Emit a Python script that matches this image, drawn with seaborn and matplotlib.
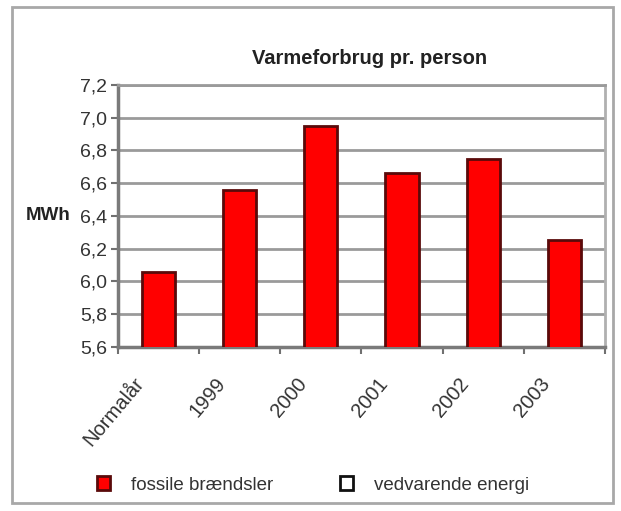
import matplotlib
matplotlib.use("Agg")
import matplotlib.pyplot as plt
import matplotlib.transforms as mtransforms
from matplotlib.patches import Patch, Rectangle
import seaborn as sns
import pandas as pd

categories = ["Normalår", "1999", "2000", "2001", "2002", "2003"]
fossil = [6.06, 6.56, 6.95, 6.66, 6.75, 6.25]
renewable = [0, 0, 0, 0, 0, 0]
series_names = ["fossile brændsler", "vedvarende energi"]
yticks = [5.6, 5.8, 6.0, 6.2, 6.4, 6.6, 6.8, 7.0, 7.2]
title = "Varmeforbrug pr. person"
ylabel = "MWh"

sns.set_style("white")
plt.rcParams["font.family"] = ["Liberation Sans", "DejaVu Sans"]

df = pd.DataFrame({"cat": categories, "val": fossil})

fig = plt.figure(figsize=(6.21, 5.11), dpi=100)
ax = fig.add_axes([0.190, 0.321, 0.784, 0.513])

sns.barplot(data=df, x="cat", y="val", color="#ff0000", saturation=1,
            width=0.41, edgecolor="#5a0a0a", linewidth=2, ax=ax, zorder=3)

ax.set_ylim(5.6, 7.2)
ax.set_xlim(-0.5, 5.5)
ax.set_yticks(yticks)
ax.set_yticklabels([f"{v:.1f}".replace(".", ",") for v in yticks],
                   fontsize=14, color="#333333")
ax.yaxis.grid(True, color="#9a9a9a", linewidth=2, zorder=0)
ax.set_axisbelow(True)
ax.tick_params(axis="y", length=5, width=1.5, color="#707070", pad=3, left=True)

ax.set_xticks(range(len(categories)))
ax.set_xticklabels(categories, rotation=50, ha="right", rotation_mode="anchor",
                   fontsize=14.5, color="#333333")
ax.tick_params(axis="x", length=0, pad=8)
offset = mtransforms.ScaledTranslation(-25 / 100, -16 / 100, fig.dpi_scale_trans)
for lab in ax.get_xticklabels():
    lab.set_transform(lab.get_transform() + offset)
ax.set_xticks([i - 0.5 for i in range(len(categories) + 1)], minor=True)
ax.tick_params(axis="x", which="minor", length=5, width=1.5, color="#707070", bottom=True)

ax.set_xlabel("")
ax.set_ylabel("")
for side, col, lw in [("left", "#7a7a7a", 2.5), ("bottom", "#7a7a7a", 2.5),
                      ("top", "#9a9a9a", 2), ("right", "#b0b0b0", 2)]:
    ax.spines[side].set_visible(True)
    ax.spines[side].set_color(col)
    ax.spines[side].set_linewidth(lw)

fig.text(370 / 621, 1 - 58 / 511, title, ha="center", va="center",
         fontsize=14.5, fontweight="bold", color="#222222")
fig.text(48 / 621, 1 - 215 / 511, ylabel, ha="center", va="center",
         fontsize=13.5, fontweight="bold", color="#222222")

handles = [Patch(facecolor="#ff0000", edgecolor="#5a0a0a", linewidth=2),
           Patch(facecolor="white", edgecolor="#111111", linewidth=2)]
fig.legend(handles, series_names, loc="center", bbox_to_anchor=(313 / 621, 1 - 485 / 511),
           ncol=2, frameon=False, fontsize=13.5, handlelength=0.7, handleheight=0.7,
           columnspacing=3.6, handletextpad=1.1, labelcolor="#333333")

frame = Rectangle((12 / 621, 1 - 503 / 511), 601 / 621, 496 / 511,
                  transform=fig.transFigure, fill=False, edgecolor="#a8a8a8", linewidth=2)
fig.patches.append(frame)

fig.savefig("out.png", dpi=100)
